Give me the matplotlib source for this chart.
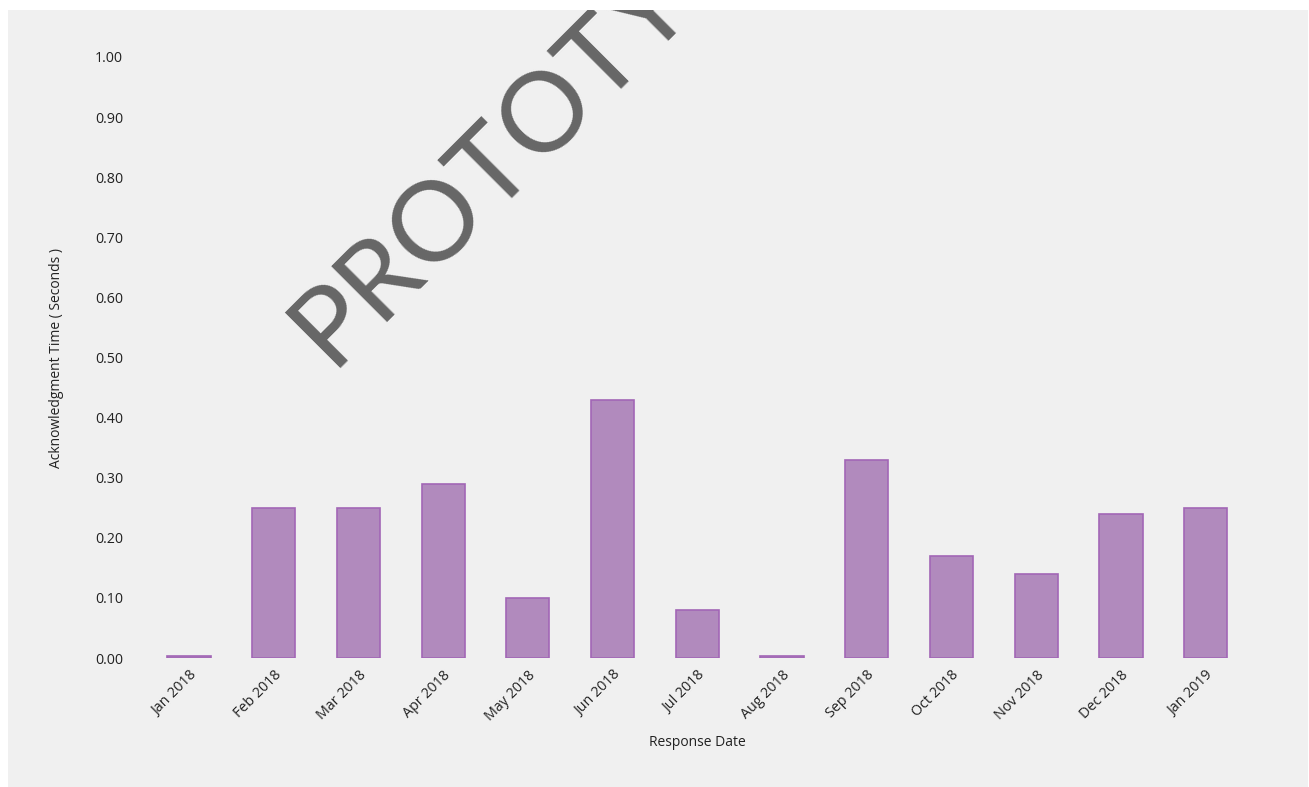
import matplotlib.pyplot as plt
from matplotlib.patches import Rectangle
from matplotlib.transforms import Bbox, TransformedBbox

plt.rcParams['font.family'] = ['Open Sans', 'DejaVu Sans']

# monthly acknowledgment time (seconds)
months = ["Jan 2018", "Feb 2018", "Mar 2018", "Apr 2018", "May 2018", "Jun 2018",
          "Jul 2018", "Aug 2018", "Sep 2018", "Oct 2018", "Nov 2018", "Dec 2018",
          "Jan 2019"]
ack_time = [0.004, 0.25, 0.25, 0.29, 0.10, 0.43, 0.08, 0.004, 0.33, 0.17, 0.14, 0.24, 0.25]
y_ticks = [0.0, 0.1, 0.2, 0.3, 0.4, 0.5, 0.6, 0.7, 0.8, 0.9, 1.0]

W, H = 1309, 787
fig = plt.figure(figsize=(W / 100, H / 100), dpi=100)
fig.patch.set_facecolor('white')

# grey panel behind the chart
bg = Rectangle((8 / W, 0), (1308 - 8) / W, 1 - 10 / H, transform=fig.transFigure,
               facecolor='#f0f0f0', edgecolor='none', zorder=-10)
fig.patches.append(bg)

ax = fig.add_axes([146.6 / W, 1 - 658 / H, (1248 - 146.6) / W, (658 - 57) / H])
ax.set_facecolor('none')

x = list(range(len(months)))
ax.bar(x, ack_time, width=0.51, color='#b18abd', edgecolor='#a266b6', linewidth=1.2)

ax.set_xlim(-0.5, len(months) - 0.5)
ax.set_ylim(0, 1.0)
ax.set_yticks(y_ticks)
ax.set_yticklabels([f"{v:.2f}" for v in y_ticks])
ax.set_xticks(x)
ax.set_xticklabels(months, rotation=45, ha='right', rotation_mode='anchor')
ax.tick_params(axis='both', length=0, labelsize=10.3, labelcolor='#222222')
ax.tick_params(axis='y', pad=17)
ax.tick_params(axis='x', pad=7)
for s in ax.spines.values():
    s.set_visible(False)

ax.set_xlabel('Response Date', fontsize=10, color='#222222', labelpad=8)
ax.set_ylabel('Acknowledgment Time ( Seconds )', fontsize=10, color='#222222', labelpad=22)

# watermark, clipped to the grey panel
wm = fig.text(537 / W, 1 - 118 / H, 'PROTOTYPE', rotation=45, fontsize=80,
              family=['Lato', 'DejaVu Sans'],
              color='#666666', ha='center', va='center', rotation_mode='anchor')
wm.set_clip_box(TransformedBbox(Bbox([[8 / W, 0], [1308 / W, 1 - 10 / H]]), fig.transFigure))
wm.set_clip_on(True)

fig.savefig('out.png', dpi=100, facecolor=fig.get_facecolor())
